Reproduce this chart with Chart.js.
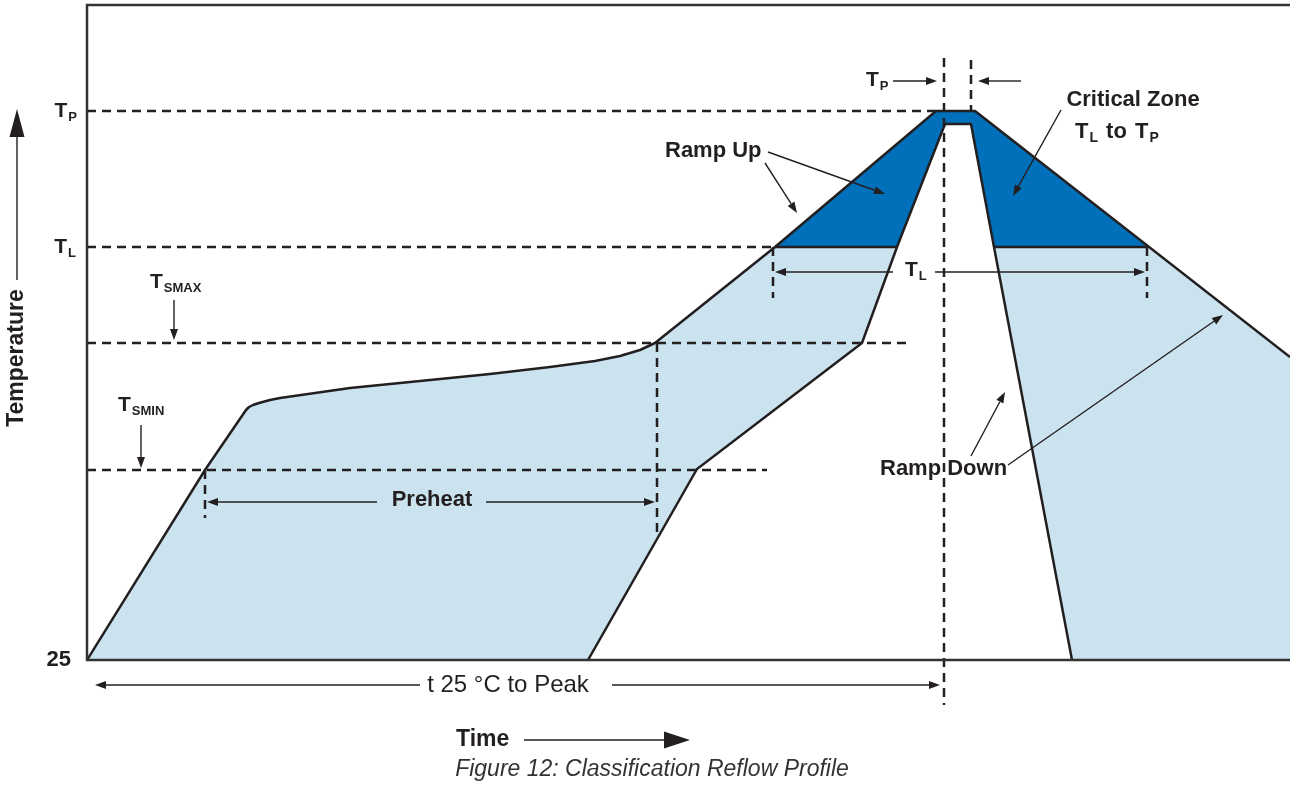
<!DOCTYPE html>
<html>
<head>
<meta charset="utf-8">
<script src="https://cdn.jsdelivr.net/npm/chart.js@4/dist/chart.umd.min.js"></script>
<style>
  html, body { margin: 0; padding: 0; background: #fff; }
  #wrap { width: 1290px; height: 786px; }
</style>
</head>
<body>
<div id="wrap"><canvas id="reflow" width="1290" height="786"></canvas></div>
<script>
// profile shapes (time units / temperature units above 25)
const outerTime = [0, 118, 159, 162, 166, 172, 183, 193, 263, 333, 403, 463, 508, 533, 553, 568, 688, 849, 888, 1203];
const outerTemp = [0, 190, 250, 253, 255, 257, 260, 262, 272, 279, 286, 293, 299, 304, 310, 317, 413, 549, 549, 303];
const innerTime = [501, 610, 775, 810, 858, 884, 907, 985];
const innerTemp = [0, 191, 317, 413, 536, 536, 413, 0];

// reference levels
const tP = 549;
const tL = 413;
const tSmax = 317;
const tSmin = 190;

// dashed guides: [x1, y1, x2, y2]
const guideLines = [
    [0, tP, 849, tP],
    [0, tL, 688, tL],
    [0, tSmax, 821, tSmax],
    [0, tSmin, 680, tSmin],
    [857, 602, 857, -45],
    [884, 600, 884, tP],
    [570, tSmax, 570, 125],
    [118, tSmin, 118, 142],
    [686, tL, 686, 362],
    [1060, tL, 1060, 362]
];

const LIGHT = '#cae3ef';
const DARK = '#0070ba';
const INK = '#231f20';
const FONT = '"Liberation Sans", Arial, sans-serif';

function pts(xs, ys) {
    return xs.map((x, i) => ({ x: x, y: ys[i] }));
}

const datasets = [
    { data: pts(outerTime, outerTemp), fill: 'start', backgroundColor: LIGHT, borderWidth: 0, order: 50 },
    { data: pts(outerTime, outerTemp), fill: { target: { value: tL }, above: DARK, below: 'rgba(0,0,0,0)' },
      borderWidth: 0, order: 40 },
    { data: pts(innerTime, innerTemp), fill: 'start', backgroundColor: '#ffffff', borderColor: INK, borderWidth: 2.5, order: 30 },
    { data: [{ x: 688, y: tL }, { x: 810, y: tL }, { x: 810, y: null }, { x: 907, y: tL }, { x: 1061, y: tL }],
      fill: false, borderColor: INK, borderWidth: 2.5, spanGaps: false, order: 25 },
    { data: pts(outerTime, outerTemp), fill: false, borderColor: INK, borderWidth: 2.5,
      borderJoinStyle: 'round', order: 20 }
];

guideLines.forEach(g => {
    datasets.push({
        data: [{ x: g[0], y: g[1] }, { x: g[2], y: g[3] }],
        fill: false, borderColor: INK, borderWidth: 2.5, borderDash: [9, 6],
        clip: false, order: 10
    });
});

// annotation arrows: [x1, y1, x2 (tip), y2 (tip)]
const arrows = [
    [87, 360, 87, 320],
    [54, 235, 54, 192],
    [290, 158, 120, 158],
    [399, 158, 568, 158],
    [333, -25, 8, -25],
    [525, -25, 853, -25],
    [806, 579, 850, 579],
    [934, 579, 891, 579],
    [678, 497, 710, 447],
    [681, 508, 798, 466],
    [974, 550, 926, 464],
    [806, 388, 688, 388],
    [848, 388, 1058, 388],
    [884, 204, 918, 268],
    [921, 195, 1136, 345]
];

const plainLabels = [
    { text: 'Ramp Up', x: 578, y: 509, align: 'left' },
    { text: 'Critical Zone', x: 1046, y: 560, align: 'center' },
    { text: 'Ramp Down', x: 793, y: 191, align: 'left' },
    { text: 'Preheat', x: 345, y: 160, align: 'center' },
    { text: '25', x: -16, y: 0, align: 'right' }
];

const subLabels = [
    { main: 'T', sub: 'P', x: -10, y: tP, align: 'right' },
    { main: 'T', sub: 'L', x: -11, y: tL, align: 'right' },
    { main: 'T', sub: 'SMAX', x: 63, y: 378, align: 'left' },
    { main: 'T', sub: 'SMIN', x: 31, y: 255, align: 'left' },
    { main: 'T', sub: 'P', x: 779, y: 580, align: 'left' },
    { main: 'T', sub: 'L', x: 818, y: 390, align: 'left' }
];

function drawArrow(ctx, x1, y1, x2, y2, head, half, lw) {
    const ang = Math.atan2(y2 - y1, x2 - x1);
    const bx = x2 - head * Math.cos(ang), by = y2 - head * Math.sin(ang);
    ctx.lineWidth = lw;
    ctx.beginPath();
    ctx.moveTo(x1, y1);
    ctx.lineTo(bx, by);
    ctx.stroke();
    ctx.beginPath();
    ctx.moveTo(x2, y2);
    ctx.lineTo(bx + half * Math.sin(ang), by - half * Math.cos(ang));
    ctx.lineTo(bx - half * Math.sin(ang), by + half * Math.cos(ang));
    ctx.closePath();
    ctx.fill();
}

function drawSub(ctx, main, sub, x, y, align, size) {
    const mainFont = 'bold ' + size + 'px ' + FONT;
    const subFont = 'bold ' + Math.round(size * 0.62) + 'px ' + FONT;
    ctx.font = mainFont;
    const w1 = ctx.measureText(main).width + 1;
    ctx.font = subFont;
    const w2 = ctx.measureText(sub).width;
    let left = x;
    if (align === 'right') left = x - w1 - w2;
    if (align === 'center') left = x - (w1 + w2) / 2;
    ctx.textAlign = 'left';
    ctx.textBaseline = 'middle';
    ctx.font = mainFont;
    ctx.fillText(main, left, y);
    ctx.font = subFont;
    ctx.fillText(sub, left + w1, y + size * 0.3);
    return left + w1 + w2;
}

const annotPlugin = {
    id: 'annot',
    beforeDraw(chart) {
        const ctx = chart.ctx;
        ctx.save();
        ctx.fillStyle = '#fff';
        ctx.fillRect(0, 0, chart.width, chart.height);
        ctx.restore();
    },
    afterDatasetsDraw(chart) {
        const ctx = chart.ctx, a = chart.chartArea;
        ctx.save();
        ctx.strokeStyle = '#333';
        ctx.lineWidth = 2.5;
        ctx.beginPath();
        ctx.moveTo(a.right, a.top);
        ctx.lineTo(a.left, a.top);
        ctx.lineTo(a.left, a.bottom);
        ctx.lineTo(a.right, a.bottom);
        ctx.stroke();
        ctx.restore();
    },
    afterDraw(chart) {
        const ctx = chart.ctx;
        const sx = chart.scales.x, sy = chart.scales.y;
        const X = v => sx.getPixelForValue(v);
        const Y = v => sy.getPixelForValue(v);
        ctx.save();
        ctx.fillStyle = INK;
        ctx.strokeStyle = INK;

        arrows.forEach(r => drawArrow(ctx, X(r[0]), Y(r[1]), X(r[2]), Y(r[3]), 11, 4, 1.4));

        // axis arrows
        drawArrow(ctx, X(-70), Y(380), X(-70), Y(551), 28, 7.5, 1.4);
        drawArrow(ctx, X(437), Y(-80), X(603), Y(-80), 26, 8.5, 1.4);

        ctx.textBaseline = 'middle';
        ctx.font = 'bold 22px ' + FONT;
        plainLabels.forEach(l => {
            ctx.textAlign = l.align;
            ctx.fillText(l.text, X(l.x), Y(l.y));
        });

        subLabels.forEach(l => drawSub(ctx, l.main, l.sub, X(l.x), Y(l.y), l.align, 21));

        // "TL to TP" line under Critical Zone
        let nx = drawSub(ctx, 'T', 'L', X(988), Y(528), 'left', 22);
        ctx.font = 'bold 22px ' + FONT;
        ctx.textAlign = 'left';
        ctx.fillText(' to ', nx + 2, Y(528));
        nx += ctx.measureText(' to ').width + 4;
        drawSub(ctx, 'T', 'P', nx, Y(528), 'left', 22);

        ctx.font = '24px ' + FONT;
        ctx.textAlign = 'center';
        ctx.fillText('t 25 \u00b0C to Peak', X(421), Y(-25));

        ctx.font = 'bold 23px ' + FONT;
        ctx.textAlign = 'left';
        ctx.fillText('Time', X(369), Y(-80));

        ctx.save();
        ctx.translate(X(-70), Y(302));
        ctx.rotate(-Math.PI / 2);
        ctx.textAlign = 'center';
        ctx.fillText('Temperature', 0, 0);
        ctx.restore();

        ctx.fillStyle = '#333';
        ctx.font = 'italic 23px ' + FONT;
        ctx.textAlign = 'center';
        ctx.fillText('Figure 12: Classification Reflow Profile', X(565), Y(-110));
        ctx.restore();
    }
};

new Chart(document.getElementById('reflow').getContext('2d'), {
    type: 'line',
    data: { datasets: datasets },
    options: {
        responsive: false,
        animation: false,
        devicePixelRatio: 1,
        layout: { padding: { left: 87, top: 5, right: 0, bottom: 126 } },
        elements: { point: { radius: 0, hoverRadius: 0 }, line: { tension: 0 } },
        scales: {
            x: { type: 'linear', min: 0, max: 1203, display: false },
            y: { type: 'linear', min: 0, max: 655, display: false }
        },
        plugins: { legend: { display: false }, tooltip: { enabled: false } }
    },
    plugins: [annotPlugin]
});
</script>
</body>
</html>
